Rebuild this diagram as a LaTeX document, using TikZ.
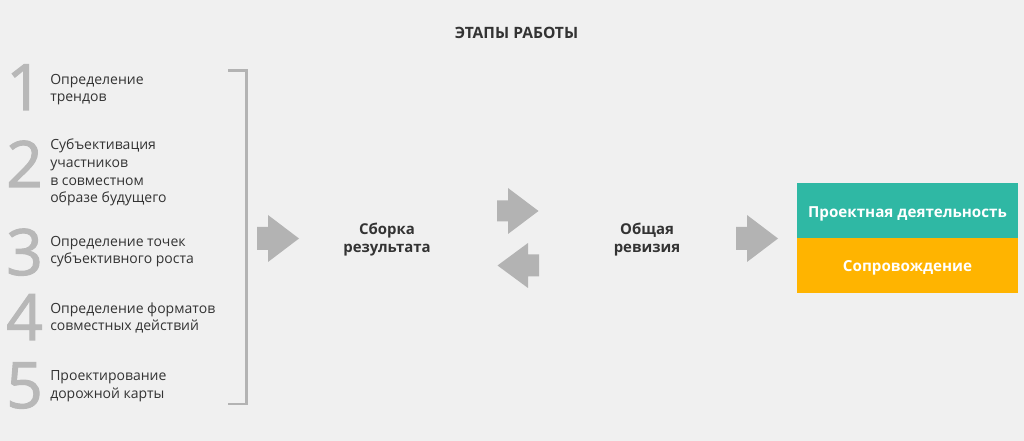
\documentclass[tikz,border=0pt]{standalone}
\usepackage{fontspec}
\setmainfont{Open Sans}
\newfontfamily\digitfont[FakeBold=1.6]{Open Sans}
\definecolor{bg}{HTML}{F0F0F0}
\definecolor{txt}{HTML}{333333}
\definecolor{digit}{HTML}{B8B8B8}
\definecolor{arr}{HTML}{B3B3B3}
\definecolor{teal}{HTML}{2FB8A4}
\definecolor{amber}{HTML}{FFB400}
\begin{document}
\begin{tikzpicture}[x=0.75pt,y=-0.75pt,
  digitnum/.style={anchor=base west,inner sep=0pt,text=digit,font=\digitfont\fontsize{48}{48}\selectfont},
  itemtxt/.style={anchor=base west,inner sep=0pt,text=txt,font=\fontsize{10.5}{13.3}\selectfont,align=left},
  midtxt/.style={anchor=base,inner sep=0pt,text=txt,font=\fontsize{11.2}{14.2}\selectfont\bfseries,align=center},
  boxtxt/.style={anchor=base,inner sep=0pt,text=white,font=\fontsize{11.4}{14}\selectfont\bfseries},
  blockarrow/.style={fill=arr,draw=none}
]
\fill[bg] (0,0) rectangle (1024,441);
\useasboundingbox (0,0) rectangle (1024,441);

% title
\node[anchor=base,inner sep=0pt,text=txt,font=\fontsize{11.7}{14}\selectfont\bfseries] (title) at (516.5,39) {ЭТАПЫ РАБОТЫ};

% digits
\node[digitnum] (d1) at (6,110) {1};
\node[digitnum] (d2) at (6,187) {2};
\node[digitnum] (d3) at (6,275) {3};
\node[digitnum] (d4) at (6,340) {4};
\node[digitnum] (d5) at (6,408) {5};

% items (base = last line)
\node[itemtxt] (t1) at (50,102) {Определение\\трендов};
\node[itemtxt] (t2) at (50,203) {Субъективация\\участников\\в совместном\\образе будущего};
\node[itemtxt] (t3) at (50,264) {Определение точек\\субъективного роста};
\node[itemtxt] (t4) at (50,331) {Определение форматов\\совместных действий};
\node[itemtxt] (t5) at (50,398) {Проектирование\\дорожной карты};

% bracket
\draw[arr,line width=1.9pt] (228,70.5) -- (246.5,70.5) -- (246.5,404) -- (228,404);

% arrows
\fill[blockarrow] (257,227) -- (268,227) -- (268,215) -- (299,238.5) -- (268,262) -- (268,250) -- (257,250) -- cycle;
\fill[blockarrow] (497,200.5) -- (508,200.5) -- (508,188) -- (538.5,211) -- (508,234) -- (508,221.5) -- (497,221.5) -- cycle;
\fill[blockarrow] (539,254.5) -- (528,254.5) -- (528,243) -- (497.5,265.5) -- (528,288) -- (528,276.5) -- (539,276.5) -- cycle;
\fill[blockarrow] (736,227) -- (747,227) -- (747,215) -- (778,238.5) -- (747,262) -- (747,250) -- (736,250) -- cycle;

% middle texts
\node[midtxt] (sbor) at (387,253) {Сборка\\результата};
\node[midtxt] (rev) at (647,253) {Общая\\ревизия};

% boxes
\fill[teal] (797,183) rectangle (1018,238);
\fill[amber] (797,238) rectangle (1018,293);
\node[boxtxt] (b1) at (907.5,217.5) {Проектная деятельность};
\node[boxtxt] (b2) at (907.5,271.5) {Сопровождение};
\end{tikzpicture}
\end{document}
